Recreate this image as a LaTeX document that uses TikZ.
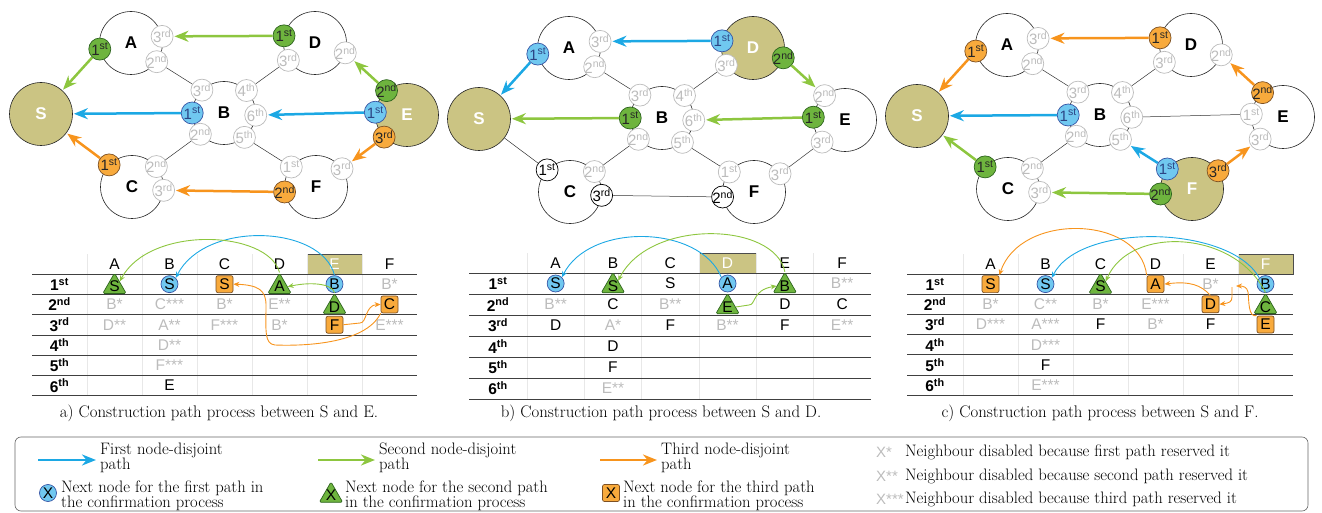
\documentclass[tikz,border=0pt]{standalone}
\usepackage{fontspec}
\setsansfont{Liberation Sans}
\usetikzlibrary{arrows.meta,shapes.geometric}

\definecolor{lineblue}{RGB}{28,168,228}
\definecolor{linegreen}{RGB}{141,198,63}
\definecolor{lineorange}{RGB}{247,148,29}
\definecolor{olivefill}{RGB}{203,196,131}
\definecolor{greytext}{RGB}{188,188,188}
\definecolor{mkblue}{RGB}{112,200,240}
\definecolor{mkblueline}{RGB}{55,85,165}
\definecolor{mkgreen}{RGB}{110,180,62}
\definecolor{mkgreenline}{RGB}{45,100,30}
\definecolor{mkorange}{RGB}{248,170,60}
\definecolor{mkorangeline}{RGB}{125,80,35}
\definecolor{gridfaint}{RGB}{232,232,232}

\newcommand\ordn[2]{#1\textsuperscript{#2}}

\tikzset{
  big/.style={circle,draw=black!85,line width=0.6pt,fill=white,minimum size=63pt,inner sep=0pt,
    font=\sffamily\bfseries\fontsize{17}{17}\selectfont},
  bigsrc/.style={fill=olivefill,text=white},
  port/.style={circle,draw=greytext,line width=0.7pt,fill=white,text=greytext,minimum size=22pt,
    inner sep=-5pt,font=\sffamily\fontsize{15}{15}\selectfont},
  portblue/.style={fill=mkblue,draw=mkblueline,text=mkblueline!80!black},
  portgreen/.style={fill=mkgreen,draw=mkgreenline,text=black!85},
  portorange/.style={fill=mkorange,draw=mkorangeline,text=black!85},
  portblack/.style={draw=black,text=black},
  link/.style={draw=black!80,line width=0.5pt},
  patharrow/.style={line width=2.5pt,-{Stealth[length=14pt,width=11pt]},shorten >=1pt},
  tarrow/.style={line width=0.9pt,-{Stealth[length=6pt,width=5pt]}},
  colrule/.style={draw=gridfaint,line width=0.5pt},
  rowrule/.style={draw=black!75,line width=0.8pt},
  colhead/.style={font=\sffamily\fontsize{15.5}{15.5}\selectfont,inner sep=0pt},
  rowhead/.style={font=\sffamily\bfseries\fontsize{15.5}{15.5}\selectfont,inner sep=0pt},
  cellnode/.style={font=\sffamily\fontsize{15.5}{15.5}\selectfont,inner sep=0pt,text=black},
  dim/.style={text=greytext},
  mblue/.style={circle,fill=mkblue,draw=mkblueline,line width=0.7pt,minimum size=17pt},
  mgreen/.style={regular polygon,regular polygon sides=3,fill=mkgreen,draw=mkgreenline,
    line width=0.7pt,minimum size=27pt,inner sep=-7pt,rounded corners=1.5pt,yshift=-2.5pt},
  morange/.style={rectangle,rounded corners=2pt,fill=mkorange,draw=mkorangeline,
    line width=0.7pt,minimum size=17pt},
  legtext/.style={font=\fontsize{16.6}{15.5}\selectfont,align=left,anchor=west,inner sep=0pt},
  captext/.style={font=\fontsize{16.8}{16.8}\selectfont,inner sep=0pt},
  legendbox/.style={draw=black!60,line width=0.6pt,rounded corners=6pt},
  greyx/.style={font=\sffamily\fontsize{15}{15}\selectfont,text=greytext,anchor=west,inner sep=0pt},
  % per-panel overrides (empty by default)
  st-S/.style={},st-A/.style={},st-B/.style={},st-C/.style={},st-D/.style={},st-E/.style={},st-F/.style={},
  st-A1/.style={},st-A2/.style={},st-A3/.style={},
  st-D1/.style={},st-D2/.style={},st-D3/.style={},
  st-B1/.style={},st-B2/.style={},st-B3/.style={},st-B4/.style={},st-B5/.style={},st-B6/.style={},
  st-E1/.style={},st-E2/.style={},st-E3/.style={},
  st-C1/.style={},st-C2/.style={},st-C3/.style={},
  st-F1/.style={},st-F2/.style={},st-F3/.style={},
}

% the seven-node network with the numbered neighbour ports
\newcommand\netgraph[1]{%
  \node[big,st-S] (#1S) at (41,-114) {S};
  \node[big,st-A] (#1A) at (131,-43) {A};
  \node[big,st-D] (#1D) at (315,-43) {D};
  \node[big,st-B] (#1B) at (224,-113) {B};
  \node[big,st-E] (#1E) at (407,-115) {E};
  \node[big,st-C] (#1C) at (132,-187) {C};
  \node[big,st-F] (#1F) at (316,-187) {F};
  \node[port,st-A1] (#1A1) at (#1A.191) {\ordn{1}{st}};
  \node[port,st-A2] (#1A2) at (#1A.324) {\ordn{2}{nd}};
  \node[port,st-A3] (#1A3) at (#1A.12) {\ordn{3}{rd}};
  \node[port,st-D1] (#1D1) at (#1D.167) {\ordn{1}{st}};
  \node[port,st-D2] (#1D2) at (#1D.342) {\ordn{2}{nd}};
  \node[port,st-D3] (#1D3) at (#1D.213) {\ordn{3}{rd}};
  \node[port,st-B1] (#1B1) at (#1B.180) {\ordn{1}{st}};
  \node[port,st-B2] (#1B2) at (#1B.222) {\ordn{2}{nd}};
  \node[port,st-B3] (#1B3) at (#1B.134) {\ordn{3}{rd}};
  \node[port,st-B4] (#1B4) at (#1B.45) {\ordn{4}{th}};
  \node[port,st-B5] (#1B5) at (#1B.310) {\ordn{5}{th}};
  \node[port,st-B6] (#1B6) at (#1B.356) {\ordn{6}{th}};
  \node[port,st-E1] (#1E1) at (#1E.175) {\ordn{1}{st}};
  \node[port,st-E2] (#1E2) at (#1E.130) {\ordn{2}{nd}};
  \node[port,st-E3] (#1E3) at (#1E.224) {\ordn{3}{rd}};
  \node[port,st-C1] (#1C1) at (#1C.136) {\ordn{1}{st}};
  \node[port,st-C2] (#1C2) at (#1C.40) {\ordn{2}{nd}};
  \node[port,st-C3] (#1C3) at (#1C.354) {\ordn{3}{rd}};
  \node[port,st-F1] (#1F1) at (#1F.141) {\ordn{1}{st}};
  \node[port,st-F2] (#1F2) at (#1F.189) {\ordn{2}{nd}};
  \node[port,st-F3] (#1F3) at (#1F.35) {\ordn{3}{rd}};
  \draw[link] (#1A2) -- (#1B3);
  \draw[link] (#1D3) -- (#1B4);
  \draw[link] (#1C2) -- (#1B2);
}

% neighbour table: #1 left edge, #2 first column rule, #3 column width,
% #4 header top, #5 first row rule, #6 row height, #7 highlighted column, #8 name prefix
\newcommand\tablegrid[8]{%
  \def\tabx{#2}\def\tabw{#3}\def\taby{#5}\def\tabh{#6}%
  \fill[olivefill] ({#2+(#7-1)*#3},-#4) rectangle ({#2+#7*#3},-#5);
  \draw[line width=0.6pt,black!70] ({#2+(#7-1)*#3},-#4) rectangle ({#2+#7*#3},-#5);
  \foreach \j in {0,...,5} \draw[colrule] ({#2+\j*#3},-#4) -- ({#2+\j*#3},{-(#5+6*#6)});
  \foreach \i in {0,...,6} \draw[rowrule] (#1,{-(#5+\i*#6)}) -- ({#2+6*#3},{-(#5+\i*#6)});
  \foreach \l [count=\k] in {A,B,C,D,E,F} {%
    \ifnum\k=#7\relax\def\hcol{white}\else\def\hcol{black}\fi
    \node[colhead,text=\hcol] (#8h\l) at ({#2+(\k-0.5)*#3},{-(#4+#5)/2}) {\l};}
  \foreach \r/\s [count=\i] in {1/st,2/nd,3/rd,4/th,5/th,6/th}
    \node[rowhead] (#8r\i) at ({(#1+#2)/2},{-(#5+(\i-0.5)*#6)}) {\ordn{\r}{\s}};
}
\newcommand\tabentry[5][]{%
  \node[cellnode,#1] (#2) at ({\tabx+(#3-0.5)*\tabw},{-(\taby+(#4-0.5)*\tabh)}) {#5};}

\begin{document}
\begin{tikzpicture}[x=1pt,y=1pt]
\useasboundingbox (0,0) rectangle (1322,-513);

% ---------------- network a: S to E ----------------
\begin{scope}[st-S/.style=bigsrc,st-E/.style=bigsrc,
  st-A1/.style=portgreen,st-D1/.style=portgreen,st-E2/.style=portgreen,
  st-B1/.style=portblue,st-E1/.style=portblue,
  st-E3/.style=portorange,st-F2/.style=portorange,st-C1/.style=portorange]
  \netgraph{a}
  \draw[link] (aF1) -- (aB5);
  \draw[patharrow,linegreen] (aD1) -- (aA3);
  \draw[patharrow,linegreen] (aA1) -- (aS);
  \draw[patharrow,linegreen] (aE2) -- (aD2);
  \draw[patharrow,lineblue] (aE1) -- (aB6);
  \draw[patharrow,lineblue] (aB1) -- (aS);
  \draw[patharrow,lineorange] (aE3) -- (aF3);
  \draw[patharrow,lineorange] (aF2) -- (aC3);
  \draw[patharrow,lineorange] (aC1) -- (aS);
\end{scope}

% ---------------- network b: S to D ----------------
\begin{scope}[shift={(438,-5)},st-S/.style=bigsrc,st-D/.style=bigsrc,
  st-A1/.style=portblue,st-D1/.style=portblue,
  st-D2/.style=portgreen,st-E1/.style=portgreen,st-B1/.style=portgreen,
  st-C1/.style=portblack,st-C3/.style=portblack,st-F2/.style=portblack]
  \netgraph{b}
  \draw[link] (bF1) -- (bB5);
  \draw[link] (bS) -- (bC1);
  \draw[link] (bC3) -- (bF2);
  \draw[link] (bF3) -- (bE3);
  \draw[patharrow,lineblue] (bD1) -- (bA3);
  \draw[patharrow,lineblue] (bA1) -- (bS);
  \draw[patharrow,linegreen] (bD2) -- (bE2);
  \draw[patharrow,linegreen] (bE1) -- (bB6);
  \draw[patharrow,linegreen] (bB1) -- (bS);
\end{scope}

% ---------------- network c: S to F ----------------
\begin{scope}[shift={(876,-2)},st-S/.style=bigsrc,st-F/.style=bigsrc,
  st-A1/.style=portorange,st-D1/.style=portorange,st-E2/.style=portorange,st-F3/.style=portorange,
  st-B1/.style=portblue,st-F1/.style=portblue,
  st-C1/.style=portgreen,st-F2/.style=portgreen]
  \netgraph{c}
  \draw[link] (cB6) -- (cE1);
  \draw[patharrow,lineblue] (cB1) -- (cS);
  \draw[patharrow,lineblue] (cF1) -- (cB5);
  \draw[patharrow,lineorange] (cA1) -- (cS);
  \draw[patharrow,lineorange] (cD1) -- (cA3);
  \draw[patharrow,lineorange] (cE2) -- (cD2);
  \draw[patharrow,lineorange] (cF3) -- (cE3);
  \draw[patharrow,linegreen] (cC1) -- (cS);
  \draw[patharrow,linegreen] (cF2) -- (cC3);
\end{scope}

% ---------------- table a ----------------
\begin{scope}
  \tablegrid{32}{87}{55}{254}{274}{20.3}{5}{ta}
  \tabentry[mgreen]{taA1}{1}{1}{S}
  \tabentry[mblue]{taB1}{2}{1}{S}
  \tabentry[morange]{taC1}{3}{1}{S}
  \tabentry[mgreen]{taD1}{4}{1}{A}
  \tabentry[mblue]{taE1}{5}{1}{B}
  \tabentry[dim]{taF1}{6}{1}{B*}
  \tabentry[dim]{taA2}{1}{2}{B*}
  \tabentry[dim]{taB2}{2}{2}{C***}
  \tabentry[dim]{taC2}{3}{2}{B*}
  \tabentry[dim]{taD2}{4}{2}{E**}
  \tabentry[mgreen]{taE2}{5}{2}{D}
  \tabentry[morange]{taF2}{6}{2}{C}
  \tabentry[dim]{taA3}{1}{3}{D**}
  \tabentry[dim]{taB3}{2}{3}{A**}
  \tabentry[dim]{taC3}{3}{3}{F***}
  \tabentry[dim]{taD3}{4}{3}{B*}
  \tabentry[morange]{taE3}{5}{3}{F}
  \tabentry[dim]{taF3}{6}{3}{E***}
  \tabentry[dim]{taB4}{2}{4}{D**}
  \tabentry[dim]{taB5}{2}{5}{F***}
  \tabentry{taB6}{2}{6}{E}
  \node[captext] (capa) at (219,-413) {a) Construction path process between S and E.};
\end{scope}
\draw[tarrow,lineblue] (taE1.north) .. controls (322,-225) and (205,-220) .. (taB1.north east);
\draw[tarrow,linegreen] (taD1.north) .. controls (268,-230) and (150,-225) .. (taA1.north east);
\draw[tarrow,linegreen] (taE2.north) .. controls (333,-285) and (315,-281) .. (taD1.east);
\draw[tarrow,lineorange] (taE3.east) -- (360,-323) .. controls (367,-323) and (365,-305) .. (taF2.west);
\draw[tarrow,lineorange] (taF2.south west) .. controls (365,-345) and (300,-346) .. (275,-345)
  .. controls (264,-344) and (266,-330) .. (266,-305) .. controls (266,-290) and (258,-285) .. (taC1.east);

% ---------------- table b ----------------
\begin{scope}
  \tablegrid{469}{527}{57.3}{253}{273}{21}{4}{tb}
  \tabentry[mblue]{tbA1}{1}{1}{S}
  \tabentry[mgreen]{tbB1}{2}{1}{S}
  \tabentry{tbC1}{3}{1}{S}
  \tabentry[mblue]{tbD1}{4}{1}{A}
  \tabentry[mgreen]{tbE1}{5}{1}{B}
  \tabentry[dim]{tbF1}{6}{1}{B**}
  \tabentry[dim]{tbA2}{1}{2}{B**}
  \tabentry{tbB2}{2}{2}{C}
  \tabentry[dim]{tbC2}{3}{2}{B**}
  \tabentry[mgreen]{tbD2}{4}{2}{E}
  \tabentry{tbE2}{5}{2}{D}
  \tabentry{tbF2}{6}{2}{C}
  \tabentry{tbA3}{1}{3}{D}
  \tabentry[dim]{tbB3}{2}{3}{A*}
  \tabentry{tbC3}{3}{3}{F}
  \tabentry[dim]{tbD3}{4}{3}{B**}
  \tabentry{tbE3}{5}{3}{F}
  \tabentry[dim]{tbF3}{6}{3}{E**}
  \tabentry{tbB4}{2}{4}{D}
  \tabentry{tbB5}{2}{5}{F}
  \tabentry[dim]{tbB6}{2}{6}{E**}
  \node[captext] (capb) at (661,-413) {b) Construction path process between S and D.};
\end{scope}
\draw[tarrow,lineblue] (tbD1.north west) .. controls (700,-225) and (590,-222) .. (tbA1.north east);
\draw[tarrow,linegreen] (tbE1.north) .. controls (775,-222) and (650,-218) .. (tbB1.north east);
\draw[tarrow,linegreen] (tbD2.east) -- (749,-305) .. controls (756,-305) and (752,-290) .. (tbE1.west);

% ---------------- table c ----------------
\begin{scope}
  \tablegrid{907}{963}{55}{254}{274}{20.2}{6}{tc}
  \tabentry[morange]{tcA1}{1}{1}{S}
  \tabentry[mblue]{tcB1}{2}{1}{S}
  \tabentry[mgreen]{tcC1}{3}{1}{S}
  \tabentry[morange]{tcD1}{4}{1}{A}
  \tabentry[dim]{tcE1}{5}{1}{B*}
  \tabentry[mblue]{tcF1}{6}{1}{B}
  \tabentry[dim]{tcA2}{1}{2}{B*}
  \tabentry[dim]{tcB2}{2}{2}{C**}
  \tabentry[dim]{tcC2}{3}{2}{B*}
  \tabentry[dim]{tcD2}{4}{2}{E***}
  \tabentry[morange]{tcE2}{5}{2}{D}
  \tabentry[mgreen]{tcF2}{6}{2}{C}
  \tabentry[dim]{tcA3}{1}{3}{D***}
  \tabentry[dim]{tcB3}{2}{3}{A***}
  \tabentry{tcC3}{3}{3}{F}
  \tabentry[dim]{tcD3}{4}{3}{B*}
  \tabentry{tcE3}{5}{3}{F}
  \tabentry[morange]{tcF3}{6}{3}{E}
  \tabentry[dim]{tcB4}{2}{4}{D***}
  \tabentry{tcB5}{2}{5}{F}
  \tabentry[dim]{tcB6}{2}{6}{E***}
  \node[captext] (capc) at (1100,-413) {c) Construction path process between S and F.};
\end{scope}
\draw[tarrow,lineorange] (tcD1.north west) .. controls (1140,-215) and (1020,-212) .. (tcA1.north east);
\draw[tarrow,lineblue] (tcF1.north west) .. controls (1230,-225) and (1080,-222) .. (tcB1.north east);
\draw[tarrow,linegreen] (tcF2.north) .. controls (1235,-230) and (1130,-225) .. (tcC1.north east);
\draw[tarrow,lineorange] (tcE2.north) .. controls (1201,-285) and (1190,-281) .. (tcD1.east);
\coordinate (tcJ) at (1236,-286);
\coordinate (tcK) at (1232,-287);
\draw[tarrow,lineorange] (tcF3.north west) .. controls (1248,-318) and (1249,-300) .. (1248,-292)
  .. controls (1247,-287) and (1243,-286) .. (tcJ);
\draw[tarrow,lineorange] (tcK) -- (1232,-297) .. controls (1232,-302) and (1229,-303) .. (tcE2.east);

% ---------------- legend ----------------
\draw[legendbox] (15,-437) rectangle (1308,-511);
\coordinate (lgB0) at (38,-460);  \coordinate (lgB1) at (97,-460);
\coordinate (lgG0) at (318,-460); \coordinate (lgG1) at (376,-460);
\coordinate (lgO0) at (600,-460); \coordinate (lgO1) at (658,-460);
\draw[patharrow,lineblue] (lgB0) -- (lgB1);
\draw[patharrow,linegreen] (lgG0) -- (lgG1);
\draw[patharrow,lineorange] (lgO0) -- (lgO1);
\node[legtext] (lgBt) at (100,-458) {First node-disjoint\\path};
\node[legtext] (lgGt) at (379,-458) {Second node-disjoint\\path};
\node[legtext] (lgOt) at (661,-458) {Third node-disjoint\\path};
\node[cellnode,mblue] (lgBx) at (48,-493) {X};
\node[cellnode,mgreen] (lgGx) at (331,-493) {X};
\node[cellnode,morange] (lgOx) at (611,-493) {X};
\node[legtext] (lgBn) at (61,-496) {Next node for the first path in\\the confirmation process};
\node[legtext] (lgGn) at (345,-496) {Next node for the second path\\in the confirmation process};
\node[legtext] (lgOn) at (623,-496) {Next node for the third path\\in the confirmation process};
\node[greyx] (lgX1) at (876,-452) {X*};
\node[greyx] (lgX2) at (876,-476) {X**};
\node[greyx] (lgX3) at (876,-499) {X***};
\node[legtext] (lgD1) at (905,-452) {Neighbour disabled because first path reserved it};
\node[legtext] (lgD2) at (905,-476) {Neighbour disabled because second path reserved it};
\node[legtext] (lgD3) at (905,-499) {Neighbour disabled because third path reserved it};
\end{tikzpicture}
\end{document}
